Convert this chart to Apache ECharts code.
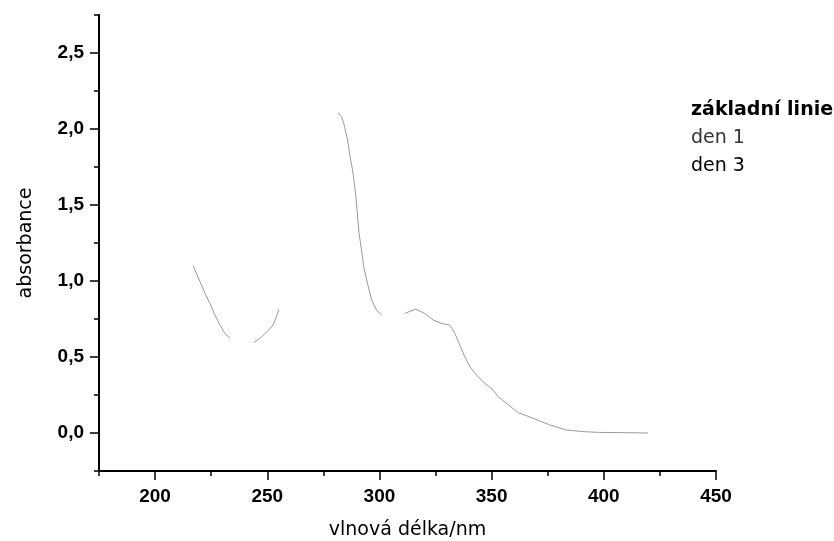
<!DOCTYPE html>
<html>
<head>
<meta charset="utf-8">
<script src="https://cdn.jsdelivr.net/npm/echarts@6/dist/echarts.min.js"></script>
<style>html,body{margin:0;padding:0;background:#fff}#c{width:834px;height:541px}</style>
</head>
<body>
<div id="c"></div>
<script>
// wavelength (nm) and absorbance; null = visible break in the trace
const wavelengths = [217.0, 220.0, 222.2, 224.4, 226.7, 228.9, 231.1, 233.4, 239.0, 244.0, 246.7, 249.9, 252.6, 254.1, 255.2, 268.0,
  281.6, 283.1, 284.1, 285.8, 286.8, 288.0, 288.6, 289.5, 290.2, 290.9, 292.0, 293.0, 294.5, 296.5, 298.7, 300.9, 306.0,
  311.3, 316.2, 320.2, 324.0, 327.6, 331.3, 333.6, 335.8, 338.0, 340.3, 343.2, 346.2, 350.6, 352.9, 361.8, 368.5, 375.9,
  383.3, 390.7, 398.2, 410.1, 419.7];
const absorbance = [1.099, 0.996, 0.919, 0.853, 0.776, 0.711, 0.656, 0.623, null, 0.594, 0.623, 0.666, 0.711, 0.766, 0.814, null,
  2.107, 2.081, 2.037, 1.928, 1.829, 1.730, 1.664, 1.555, 1.434, 1.314, 1.204, 1.094, 0.995, 0.875, 0.809, 0.776, null,
  0.787, 0.815, 0.787, 0.743, 0.721, 0.711, 0.656, 0.579, 0.502, 0.436, 0.382, 0.337, 0.283, 0.239, 0.134, 0.097, 0.053,
  0.020, 0.009, 0.004, 0.002, 0.000];
const seriesNames = ['základní linie', 'den 1', 'den 3'];
const xLabelValues = [200, 250, 300, 350, 400, 450];
const yLabelValues = [0, 0.5, 1.0, 1.5, 2.0, 2.5];

const chart = echarts.init(document.getElementById('c'));
const pts = wavelengths.map((w, i) => [w, absorbance[i]]);
const tickFont = {fontFamily: 'Liberation Sans', fontWeight: 'bold', fontSize: 19, color: '#000'};
const xBase = {type: 'value', min: 175, max: 450, interval: 25, position: 'bottom'};
const yBase = {type: 'value', min: -0.25, max: 2.75, interval: 0.25, position: 'left'};
chart.setOption({
  animation: false,
  grid: {left: 99, right: 118, top: 15, bottom: 70, containLabel: false, outerBoundsMode: 'none'},
  legend: {
    orient: 'vertical', left: 681, top: 96, icon: 'none', itemWidth: 0, itemGap: 9,
    selectedMode: false,
    textStyle: {fontFamily: 'DejaVu Sans', fontSize: 19, color: '#000'},
    data: [
      {name: seriesNames[0], textStyle: {fontWeight: 'bold', color: '#000'}},
      {name: seriesNames[1], textStyle: {color: '#333'}},
      {name: seriesNames[2], textStyle: {color: '#000'}}
    ]
  },
  xAxis: [
    Object.assign({}, xBase, {
      name: 'vlnová délka/nm', nameLocation: 'middle', nameGap: 50,
      nameTextStyle: {fontFamily: 'DejaVu Sans', fontSize: 19, color: '#000'},
      axisLine: {onZero: false, lineStyle: {color: '#000', width: 2}},
      axisTick: {length: 5, lineStyle: {color: '#000', width: 1.5}},
      axisLabel: Object.assign({margin: 16, customValues: xLabelValues, formatter: v => String(v)}, tickFont),
      splitLine: {show: false}
    }),
    Object.assign({}, xBase, {
      axisLine: {show: false, onZero: false},
      axisTick: {length: 9, customValues: xLabelValues, lineStyle: {color: '#000', width: 1.5}},
      axisLabel: {show: false},
      splitLine: {show: false}
    })
  ],
  yAxis: [
    Object.assign({}, yBase, {
      name: 'absorbance', nameLocation: 'middle', nameGap: 63,
      nameTextStyle: {fontFamily: 'DejaVu Sans', fontSize: 19, color: '#000'},
      axisLine: {onZero: false, lineStyle: {color: '#000', width: 2}},
      axisTick: {length: 5, lineStyle: {color: '#000', width: 1.5}},
      axisLabel: Object.assign({margin: 15, customValues: yLabelValues, formatter: v => v.toFixed(1).replace('.', ',')}, tickFont),
      splitLine: {show: false}
    }),
    Object.assign({}, yBase, {
      axisLine: {show: false, onZero: false},
      axisTick: {length: 9, customValues: yLabelValues, lineStyle: {color: '#000', width: 1.5}},
      axisLabel: {show: false},
      splitLine: {show: false}
    })
  ],
  series: [
    {name: seriesNames[0], type: 'line', data: pts, showSymbol: false, connectNulls: false,
     lineStyle: {color: '#999', width: 1}, itemStyle: {color: '#999'}},
    {name: seriesNames[1], type: 'line', data: [], showSymbol: false, lineStyle: {color: '#999'}, itemStyle: {color: '#999'}},
    {name: seriesNames[2], type: 'line', data: [], showSymbol: false, lineStyle: {color: '#999'}, itemStyle: {color: '#999'}}
  ]
});
</script>
</body>
</html>
